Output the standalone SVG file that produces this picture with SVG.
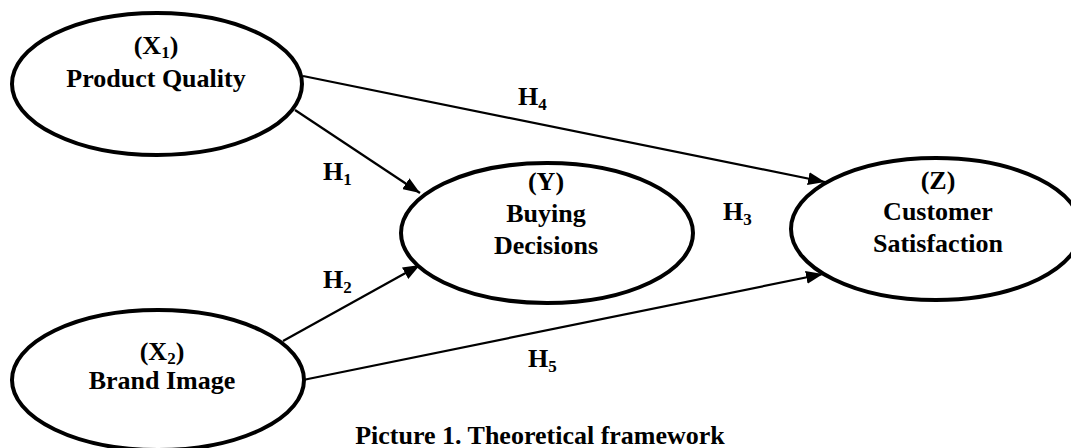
<svg xmlns="http://www.w3.org/2000/svg" width="1071" height="448" viewBox="0 0 1071 448">
<style>
.node{fill:#fff;stroke:#000;stroke-width:4}
.t{font-family:"Liberation Serif","Times New Roman",serif;font-weight:bold;font-size:26px;fill:#000;text-anchor:middle}
.lb{font-family:"Liberation Serif","Times New Roman",serif;font-weight:bold;font-size:26px;fill:#000}
.sub{font-size:17px}
.edge{stroke:#000;stroke-width:2.2;fill:none}
</style>
<defs>
<marker id="arr" markerUnits="userSpaceOnUse" markerWidth="17" markerHeight="13" refX="17" refY="6.5" orient="auto">
<path d="M0,0 L17,6.5 L0,13 z" fill="#000"/>
</marker>
</defs>
<rect width="1071" height="448" fill="#fff"/>
<g id="connectors">
<line class="edge" x1="295" y1="110" x2="420" y2="193" marker-end="url(#arr)"/>
<line class="edge" x1="303" y1="76" x2="825" y2="182" marker-end="url(#arr)"/>
<line class="edge" x1="283" y1="341" x2="420" y2="265" marker-end="url(#arr)"/>
<line class="edge" x1="303" y1="380" x2="823" y2="274" marker-end="url(#arr)"/>
</g>
<g id="labels">
<text class="lb" x="518" y="105">H<tspan class="sub" dy="5">4</tspan></text>
<text class="lb" x="323" y="180">H<tspan class="sub" dy="5">1</tspan></text>
<text class="lb" x="323" y="288">H<tspan class="sub" dy="5">2</tspan></text>
<text class="lb" x="723" y="220">H<tspan class="sub" dy="5">3</tspan></text>
<text class="lb" x="528" y="367">H<tspan class="sub" dy="5">5</tspan></text>
</g>
<g id="nodeX1">
<ellipse class="node" cx="157" cy="84" rx="145" ry="71"/>
<text class="t" x="156" y="54">(X<tspan class="sub" dy="4">1</tspan><tspan dy="-4">)</tspan></text>
<text class="t" x="156" y="87">Product Quality</text>
</g>
<g id="nodeX2">
<ellipse class="node" cx="158" cy="380" rx="146" ry="70"/>
<text class="t" x="162" y="360">(X<tspan class="sub" dy="4">2</tspan><tspan dy="-4">)</tspan></text>
<text class="t" x="162" y="389">Brand Image</text>
</g>
<g id="nodeY">
<ellipse class="node" cx="547" cy="233" rx="146" ry="70"/>
<text class="t" x="546" y="190">(Y)</text>
<text class="t" x="546" y="222">Buying</text>
<text class="t" x="546" y="254">Decisions</text>
</g>
<g id="nodeZ">
<ellipse class="node" cx="936" cy="229" rx="145" ry="71"/>
<text class="t" x="938" y="189">(Z)</text>
<text class="t" x="938" y="220">Customer</text>
<text class="t" x="938" y="252">Satisfaction</text>
</g>
<text class="t" x="540" y="444" font-size="25">Picture 1. Theoretical framework</text>
</svg>
